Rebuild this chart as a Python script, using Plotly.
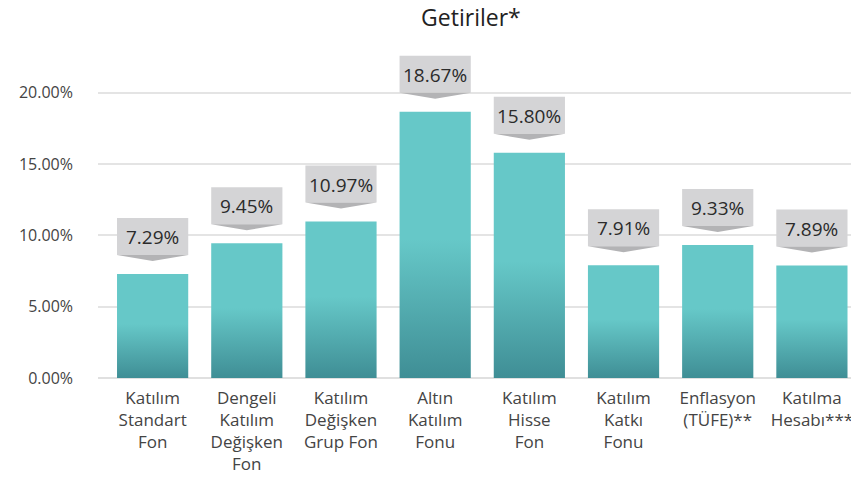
import plotly.graph_objects as go

# veriler
kategoriler = [
    "Katılım<br>Standart<br>Fon",
    "Dengeli<br>Katılım<br>Değişken<br>Fon",
    "Katılım<br>Değişken<br>Grup Fon",
    "Altın<br>Katılım<br>Fonu",
    "Katılım<br>Hisse<br>Fon",
    "Katılım<br>Katkı<br>Fonu",
    "Enflasyon<br>(TÜFE)**",
    "Katılma<br>Hesabı***",
]
getiriler = [7.29, 9.45, 10.97, 18.67, 15.80, 7.91, 9.33, 7.89]
y_ticks = [0, 5, 10, 15, 20]

FONT = "Open Sans"
ACIK = "#66c8c8"
KOYU = "#3f8e95"
KUTU = "#d4d4d6"
OK = "#b3b3b5"
W = 0.378  # yarım çubuk genişliği

fig = go.Figure()

for i, v in enumerate(getiriler):
    fig.add_trace(go.Scatter(
        x=[i - W, i + W, i + W, i - W, i - W],
        y=[0, 0, v, v, 0],
        mode="none",
        fill="toself",
        fillgradient=dict(type="vertical",
                          colorscale=[[0, KOYU], [1, ACIK]],
                          start=0, stop=v * 0.52),
        hoverinfo="skip",
        showlegend=False,
    ))

    # etiket kutusu + aşağı ok
    fig.add_shape(type="rect", xref="x", yref="y",
                  ysizemode="pixel", yanchor=v,
                  x0=i - W, x1=i + W, y0=19, y1=56,
                  fillcolor=KUTU, line_width=0, layer="above")
    fig.add_shape(type="path", xref="x", yref="y",
                  ysizemode="pixel", yanchor=v,
                  path=f"M {i - W} 19 L {i + W} 19 L {i} 13 Z",
                  fillcolor=OK, line_width=0, layer="above")
    fig.add_annotation(x=i, y=v, yshift=37, text=f"{v:.2f}%",
                       showarrow=False, yanchor="middle",
                       font=dict(family=FONT, size=19, color="#2b2b2b"))

# sayfa gövdesinin 8px kenar boşluğu için küçültülmüş boyut
fig.update_layout(
    width=851, height=478,
    margin=dict(l=90, r=0, t=35, b=108),
    paper_bgcolor="white", plot_bgcolor="white",
    title=dict(text="Getiriler*", x=0.544, xanchor="center",
               y=1 - 2 / 478, yanchor="top", pad=dict(t=0),
               font=dict(family=FONT, size=23, color="#222")),
    xaxis=dict(range=[-0.58, 7.5], tickvals=list(range(len(kategoriler))),
               ticktext=kategoriler, showgrid=False, zeroline=False,
               showline=False, ticklabelstandoff=8, automargin=False,
               tickfont=dict(family=FONT, size=17, color="#444")),
    yaxis=dict(range=[0, 23.5], tickvals=y_ticks,
               ticktext=[f"{t:.2f}%" for t in y_ticks],
               gridcolor="#e4e4e4", gridwidth=1.5, zeroline=True,
               zerolinecolor="#e0e0e0", zerolinewidth=2,
               ticklabelstandoff=24, automargin=False,
               tickfont=dict(family=FONT, size=16, color="#444")),
)

fig.write_html("out.html")
